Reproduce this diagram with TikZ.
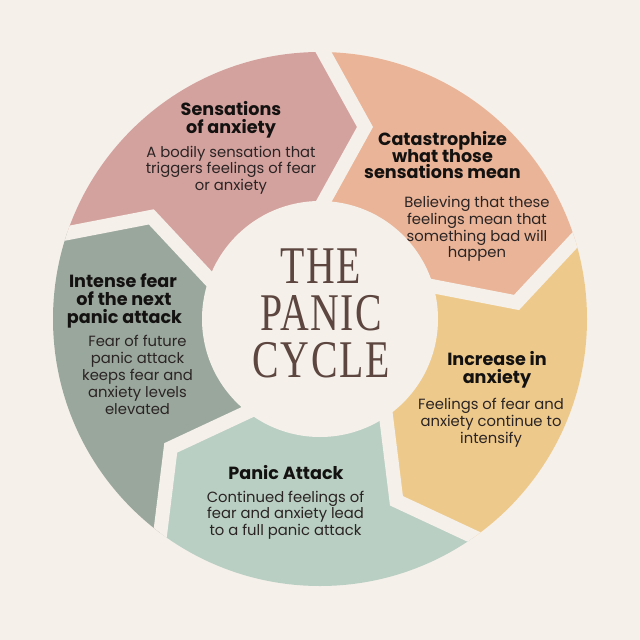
\documentclass[tikz,border=0pt]{standalone}
\usepackage{fontspec}
\usepackage{graphicx}
\newfontfamily\pop{Poppins}
\newfontfamily\ttl{Liberation Serif}[LetterSpace=4]
\definecolor{bg}{HTML}{F6F0EA}
\definecolor{pinkc}{HTML}{D3A29E}
\definecolor{peach}{HTML}{E9B497}
\definecolor{yellowc}{HTML}{EDCA8B}
\definecolor{mint}{HTML}{B9CFC3}
\definecolor{sage}{HTML}{9AA79D}
\definecolor{titlec}{HTML}{5D4640}
\definecolor{headc}{HTML}{141111}
\definecolor{bodyc}{HTML}{2B2424}
\begin{document}
\begin{tikzpicture}[x=1pt,y=-1pt,
  head/.style={font=\pop\bfseries\fontsize{17.6}{18}\selectfont, text=headc, inner sep=0pt, anchor=base},
  body/.style={font=\pop\fontsize{14.8}{16}\selectfont, text=bodyc, inner sep=0pt, anchor=base},
  titleline/.style={font=\ttl\fontsize{53}{47}\selectfont, text=titlec, inner sep=0pt, anchor=base},
  gapline/.style={draw=bg, line width=14pt, line join=miter, miter limit=10}]
\fill[bg] (0,0) rectangle (640,640);
\useasboundingbox (0,0) rectangle (640,640);
\coordinate (C) at (320,319);
\foreach \k in {0,...,4}{
  \pgfmathsetmacro\p{72*\k}
  \pgfmathsetmacro\q{72*\k+36}
  \coordinate (E\k) at ({320+330*sin(\p)-31.4*cos(\p)}, {319-330*cos(\p)-31.4*sin(\p)});
  \coordinate (V\k) at ({320+192*sin(\p)+45*cos(\p)}, {319-192*cos(\p)+45*sin(\p)});
  \coordinate (I\k) at ({320+50*sin(\p)-33.6*cos(\p)}, {319-50*cos(\p)-33.6*sin(\p)});
  \coordinate (M\k) at ({320+420*sin(\q)}, {319-420*cos(\q)});
}
\begin{scope}
  \clip (C) circle (267pt);
  \foreach \k/\c in {0/peach,1/yellowc,2/mint,3/sage,4/pinkc}{
    \pgfmathtruncatemacro\n{mod(\k+1,5)}
    \fill[\c] (E\k) -- (V\k) -- (I\k) -- (C) -- (I\n) -- (V\n) -- (E\n) -- (M\k) -- cycle;
  }
  \foreach \k in {0,...,4}{
    \draw[gapline] (E\k) -- (V\k) -- (I\k);
  }
\end{scope}
\fill[bg] (C) circle (118pt);
% title
\node[titleline] (t1) at (321,283) {\scalebox{0.75}[1]{THE}};
\node[titleline] (t2) at (321,330) {\scalebox{0.75}[1]{PANIC}};
\node[titleline] (t3) at (321,377) {\scalebox{0.75}[1]{CYCLE}};
% pink
\node[head] (pa1) at (231,115) {Sensations};
\node[head] (pa2) at (231,133) {of anxiety};
\node[body] (pb1) at (231,157) {A bodily sensation that};
\node[body] (pb2) at (231,173.5) {triggers feelings of fear};
\node[body] (pb3) at (231,190) {or anxiety};
% peach
\node[head] (oa1) at (442.5,145) {Catastrophize};
\node[head] (oa2) at (442.5,162) {what those};
\node[head] (oa3) at (442.5,178.5) {sensations mean};
\node[body] (ob1) at (477,207) {Believing that these};
\node[body] (ob2) at (477,224) {feelings mean that};
\node[body] (ob3) at (477,241) {something bad will};
\node[body] (ob4) at (477,257) {happen};
% yellow
\node[head] (ya1) at (497,365) {Increase in};
\node[head] (ya2) at (497,383) {anxiety};
\node[body] (yb1) at (491,409) {Feelings of fear and};
\node[body] (yb2) at (491,426.5) {anxiety continue to};
\node[body] (yb3) at (491,443.5) {intensify};
% mint
\node[head] (ma1) at (286,479) {Panic Attack};
\node[body] (mb1) at (285.5,502) {Continued feelings of};
\node[body] (mb2) at (285.5,518.5) {fear and anxiety lead};
\node[body] (mb3) at (285.5,535.5) {to a full panic attack};
% sage
\node[head] (sa1) at (123,287) {Intense fear};
\node[head] (sa2) at (124,305) {of the next};
\node[head] (sa3) at (124.5,323) {panic attack};
\node[body] (sb1) at (137.5,346) {Fear of future};
\node[body] (sb2) at (137.5,363) {panic attack};
\node[body] (sb3) at (137.5,380) {keeps fear and};
\node[body] (sb4) at (137.5,397) {anxiety levels};
\node[body] (sb5) at (137.5,414) {elevated};
\end{tikzpicture}
\end{document}
